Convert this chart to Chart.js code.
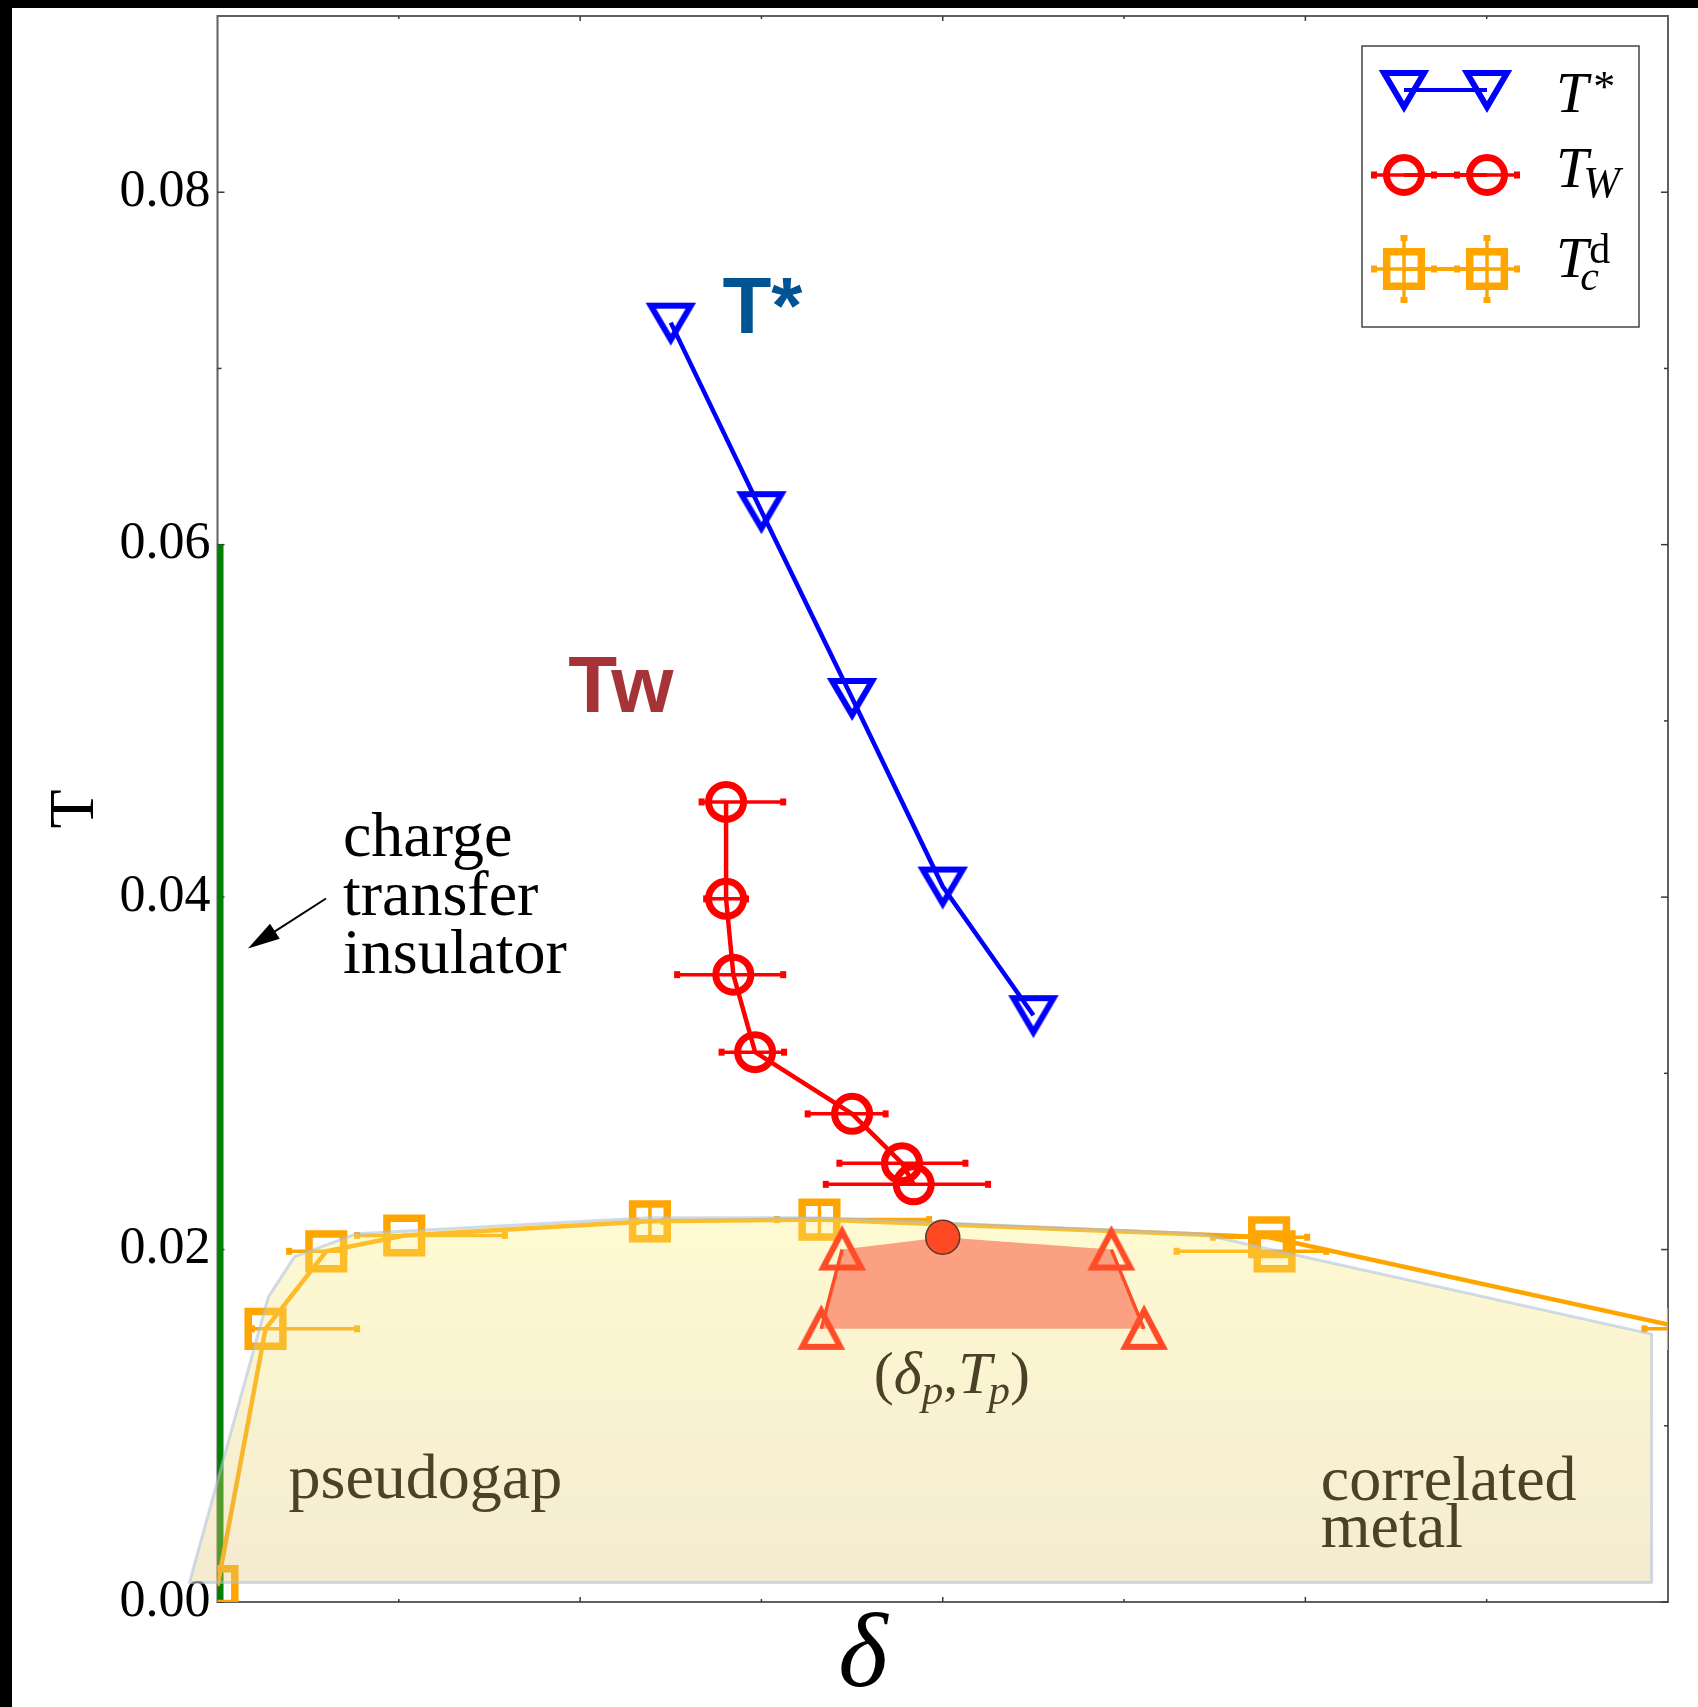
<!DOCTYPE html>
<html>
<head>
<meta charset="utf-8">
<script src="https://cdn.jsdelivr.net/npm/chart.js@4.4.1/dist/chart.umd.min.js"></script>
<style>
  html, body { margin: 0; padding: 0; background: #000; width: 1698px; height: 1707px; overflow: hidden; }
  #wrap { position: absolute; left: 12px; top: 8px; width: 1686px; height: 1699px; background: #fff; }
  canvas { display: block; }
</style>
</head>
<body>
<div id="wrap"><canvas id="phase" width="1686" height="1699"></canvas></div>
<script>
// ---- axis ranges and ticks ----
const deltaRange = [0, 0.16];
const tempRange = [0, 0.09];
const tempTickValues = [0, 0.02, 0.04, 0.06, 0.08];
const tempTickLabels = ['0.00', '0.02', '0.04', '0.06', '0.08'];
const tempMinorTicks = [0.01, 0.03, 0.05, 0.07];
const deltaMajorTicks = [0.04, 0.08, 0.12];
const deltaMinorTicks = [0.02, 0.06, 0.10, 0.14];

// ---- T* (pseudogap onset) ----
const tStarDelta = [0.050, 0.060, 0.070, 0.080, 0.090];
const tStarTemp  = [0.0726, 0.0619, 0.0513, 0.0406, 0.0333];

// ---- T_W (Widom line) with doping error bars ----
const twDelta     = [0.0561, 0.0561, 0.0569, 0.0593, 0.0700, 0.0755, 0.0768];
const twTemp      = [0.0454, 0.0399, 0.0356, 0.0312, 0.0277, 0.0249, 0.0237];
const twErrMinus  = [0.0027, 0.0022, 0.0062, 0.0037, 0.0049, 0.0069, 0.0097];
const twErrPlus   = [0.0063, 0.0022, 0.0055, 0.0032, 0.0037, 0.0070, 0.0082];

// ---- T_c^d (superconducting dome) ----
const tcDelta      = [0.0000, 0.0053, 0.0120, 0.0206, 0.0477, 0.0664, 0.1160, 0.1622];
const tcTemp       = [0.0009, 0.0155, 0.0199, 0.0208, 0.0216, 0.0217, 0.0207, 0.0155];
const tcErrMinus   = [0.0000, 0.0015, 0.0041, 0.0052, 0.0015, 0.0047, 0.0062, 0.0048];
const tcErrPlus    = [0.0000, 0.0101, 0.0020, 0.0111, 0.0015, 0.0121, 0.0042, 0.0030];
const tcTempErr    = [0, 0, 0, 0, 0.0009, 0.0009, 0, 0];
// second estimate near the overdoped side
const tcAltDelta    = [0.1166];
const tcAltTemp     = [0.0199];
const tcAltErrMinus = [0.0108];
const tcAltErrPlus  = [0.0057];

// ---- first-order transition pocket and its critical endpoint ----
const pocketLeftDelta  = [0.0666, 0.0689];
const pocketLeftTemp   = [0.0155, 0.0200];
const pocketRightDelta = [0.0986, 0.1022];
const pocketRightTemp  = [0.0200, 0.0155];
const criticalDelta = [0.0800];
const criticalTemp  = [0.0207];
// outline of the shaded coexistence pocket (left side, endpoint, right side)
const pocketShapeDelta = [0.0666, 0.0689, 0.0800, 0.0986, 0.1022];
const pocketShapeTemp  = [0.0155, 0.0200, 0.0207, 0.0200, 0.0155];

// ---- shaded superconducting region ----
const domeDelta = [-0.0031, 0.0056, 0.0085, 0.0154, 0.0476, 0.0664, 0.1084, 0.1582, 0.1582];
const domeTemp  = [ 0.0011, 0.0173, 0.0196, 0.0209, 0.0218, 0.0218, 0.0209, 0.0152, 0.0011];

// ---- charge transfer insulator at zero doping ----
const ctiDelta = [0, 0];
const ctiTemp  = [0, 0.06];

const zip = (xs, ys) => xs.map((v, i) => ({ x: v, y: ys[i] }));
const pairs = (a, b) => a.map((v, i) => [v, b[i]]);

const SERIF = "'Liberation Serif', 'Times New Roman', serif";
const SANS = "'Liberation Sans', Arial, sans-serif";
const BLUE = '#0000ff', RED = '#ff0000', ORANGE = '#ffa500', TOMATO = 'rgb(255,76,40)';
const OLIVE = '#4a4127';

// open triangle marker sprites, centred on the data point
function triangleSprite(color, w, h, down, lw) {
  const c = document.createElement('canvas');
  c.width = Math.ceil(w + 4 * lw);
  c.height = Math.ceil(h + 4 * lw);
  const g = c.getContext('2d');
  const cx = c.width / 2, cy = c.height / 2;
  g.strokeStyle = color;
  g.lineWidth = lw;
  g.lineJoin = 'miter';
  g.beginPath();
  if (down) {
    g.moveTo(cx - w / 2, cy - h / 2);
    g.lineTo(cx + w / 2, cy - h / 2);
    g.lineTo(cx, cy + h / 2);
  } else {
    g.moveTo(cx - w / 2, cy + h / 2);
    g.lineTo(cx + w / 2, cy + h / 2);
    g.lineTo(cx, cy - h / 2);
  }
  g.closePath();
  g.stroke();
  return c;
}
const starMarker = triangleSprite(BLUE, 40, 34, true, 6);
const pocketMarker = triangleSprite(TOMATO, 38, 36, false, 6);

// ---------- plugins ----------
const framePlugin = {
  id: 'frame',
  beforeDatasetsDraw(chart) {
    const { ctx, chartArea: a, scales: { x, y } } = chart;
    ctx.save();
    ctx.strokeStyle = '#606060';
    ctx.lineWidth = 2;
    ctx.strokeRect(a.left, a.top, a.right - a.left, a.bottom - a.top);
    ctx.strokeStyle = '#3a3a3a';
    ctx.lineWidth = 1.5;
    const seg = (x0, y0, x1, y1) => { ctx.beginPath(); ctx.moveTo(x0, y0); ctx.lineTo(x1, y1); ctx.stroke(); };
    tempTickValues.forEach(v => { const p = y.getPixelForValue(v); seg(a.left, p, a.left + 7, p); seg(a.right, p, a.right - 7, p); });
    tempMinorTicks.forEach(v => { const p = y.getPixelForValue(v); seg(a.left, p, a.left + 4, p); seg(a.right, p, a.right - 4, p); });
    deltaMajorTicks.forEach(v => { const p = x.getPixelForValue(v); seg(p, a.bottom, p, a.bottom - 5); seg(p, a.top, p, a.top + 5); });
    deltaMinorTicks.forEach(v => { const p = x.getPixelForValue(v); seg(p, a.bottom, p, a.bottom - 3); seg(p, a.top, p, a.top + 3); });
    ctx.restore();
  }
};

function capRect(ctx, x, y, horizontal) {
  if (horizontal) ctx.fillRect(x - 3, y - 3.5, 6, 7);
  else ctx.fillRect(x - 3.5, y - 3, 7, 6);
}

const errorBarPlugin = {
  id: 'errorBars',
  beforeDatasetDraw(chart, args) {
    const ds = chart.data.datasets[args.index];
    if (!ds.errDelta && !ds.errTemp) return;
    const { ctx, chartArea: a, scales: { x, y } } = chart;
    ctx.save();
    ctx.beginPath();
    ctx.rect(a.left, a.top, a.right - a.left, a.bottom - a.top);
    ctx.clip();
    ctx.strokeStyle = ds.borderColor;
    ctx.fillStyle = ds.borderColor;
    ctx.lineWidth = 3.5;
    ds.data.forEach((p, i) => {
      const px = x.getPixelForValue(p.x), py = y.getPixelForValue(p.y);
      const e = ds.errDelta && ds.errDelta[i];
      if (e && (e[0] > 0 || e[1] > 0)) {
        const x0 = x.getPixelForValue(p.x - e[0]), x1 = x.getPixelForValue(p.x + e[1]);
        ctx.beginPath(); ctx.moveTo(x0, py); ctx.lineTo(x1, py); ctx.stroke();
        capRect(ctx, x0, py, true); capRect(ctx, x1, py, true);
      }
      const t = ds.errTemp && ds.errTemp[i];
      if (t) {
        const y0 = y.getPixelForValue(p.y - t), y1 = y.getPixelForValue(p.y + t);
        ctx.beginPath(); ctx.moveTo(px, y0); ctx.lineTo(px, y1); ctx.stroke();
      }
    });
    ctx.restore();
  }
};

const polygonPlugin = {
  id: 'polygons',
  afterDatasetDraw(chart, args) {
    const ds = chart.data.datasets[args.index];
    if (!ds.polygon) return;
    const { ctx, scales: { y } } = chart;
    const pts = args.meta.data;
    ctx.save();
    ctx.beginPath();
    pts.forEach((p, i) => (i ? ctx.lineTo(p.x, p.y) : ctx.moveTo(p.x, p.y)));
    ctx.closePath();
    if (ds.polygon === 'dome') {
      const g = ctx.createLinearGradient(0, y.getPixelForValue(0.022), 0, y.getPixelForValue(0.001));
      g.addColorStop(0, 'rgba(251,240,120,0.34)');
      g.addColorStop(1, 'rgba(226,200,125,0.36)');
      ctx.fillStyle = g;
      ctx.fill();
      ctx.strokeStyle = 'rgba(170,192,222,0.55)';
      ctx.lineWidth = 3;
      ctx.lineJoin = 'round';
      ctx.stroke();
    } else {
      ctx.fillStyle = 'rgb(251,160,128)';
      ctx.fill();
    }
    ctx.restore();
  }
};

function runText(ctx, x, y, runs) {
  let cx = x;
  runs.forEach(r => {
    ctx.font = r.font;
    ctx.fillText(r.t, cx, y + (r.dy || 0));
    cx += ctx.measureText(r.t).width + (r.dx || 0);
  });
}

const annotationPlugin = {
  id: 'annotations',
  afterDatasetsDraw(chart) {
    const { ctx, scales: { x, y } } = chart;
    const P = (d, t) => [x.getPixelForValue(d), y.getPixelForValue(t)];
    ctx.save();
    ctx.textBaseline = 'alphabetic';
    ctx.textAlign = 'left';

    // curve names
    ctx.font = `bold 80px ${SANS}`;
    ctx.fillStyle = 'rgb(0,84,148)';
    let [lx, ly] = P(0.0557, 0.0720);
    ctx.fillText('T*', lx, ly);
    ctx.fillStyle = 'rgb(166,51,56)';
    [lx, ly] = P(0.0387, 0.0505);
    ctx.fillText('Tw', lx, ly);

    // charge transfer insulator
    ctx.fillStyle = '#000';
    ctx.font = `64px ${SERIF}`;
    [['charge', 0.04236], ['transfer', 0.03896], ['insulator', 0.03567]].forEach(([s, t]) => {
      const [tx, ty] = P(0.01384, t);
      ctx.fillText(s, tx, ty);
    });
    const [ax0, ay0] = P(0.01197, 0.03992);
    const [ax1, ay1] = P(0.00336, 0.03708);
    const ang = Math.atan2(ay1 - ay0, ax1 - ax0);
    ctx.strokeStyle = '#000';
    ctx.lineWidth = 2;
    ctx.beginPath();
    ctx.moveTo(ax0, ay0);
    ctx.lineTo(ax1 - 26 * Math.cos(ang), ay1 - 26 * Math.sin(ang));
    ctx.stroke();
    ctx.beginPath();
    ctx.moveTo(ax1, ay1);
    ctx.lineTo(ax1 - 32 * Math.cos(ang) + 9 * Math.sin(ang), ay1 - 32 * Math.sin(ang) - 9 * Math.cos(ang));
    ctx.lineTo(ax1 - 32 * Math.cos(ang) - 9 * Math.sin(ang), ay1 - 32 * Math.sin(ang) + 9 * Math.cos(ang));
    ctx.closePath();
    ctx.fillStyle = '#000';
    ctx.fill();

    // region names
    ctx.fillStyle = OLIVE;
    ctx.font = `64px ${SERIF}`;
    [lx, ly] = P(0.00783, 0.0059);
    ctx.fillText('pseudogap', lx, ly);
    [lx, ly] = P(0.1217, 0.00578);
    ctx.fillText('correlated', lx, ly);
    [lx, ly] = P(0.1217, 0.00312);
    ctx.fillText('metal', lx, ly);

    // critical endpoint label
    [lx, ly] = P(0.0724, 0.01185);
    runText(ctx, lx, ly, [
      { t: '(', font: `60px ${SERIF}` },
      { t: 'δ', font: `italic 60px ${SERIF}` },
      { t: 'p', font: `italic 43px ${SERIF}`, dy: 11 },
      { t: ',', font: `60px ${SERIF}` },
      { t: 'T', font: `italic 60px ${SERIF}`, dx: -3 },
      { t: 'p', font: `italic 43px ${SERIF}`, dy: 11 },
      { t: ')', font: `60px ${SERIF}` }
    ]);

    // doping axis label
    const a = chart.chartArea;
    ctx.fillStyle = '#000';
    ctx.font = `italic 106px ${SERIF}`;
    ctx.textAlign = 'center';
    ctx.fillText('δ', x.getPixelForValue(0.0712), a.bottom + 84);
    ctx.restore();
  }
};

function markerPath(ctx, style, cx, cy, r) {
  ctx.beginPath();
  if (style === 'circle') {
    ctx.arc(cx, cy, r, 0, Math.PI * 2);
  } else if (style === 'rect') {
    const s = r * Math.SQRT1_2;
    ctx.rect(cx - s, cy - s, 2 * s, 2 * s);
  }
}

const legendItems = [
  { label: 'T*', color: BLUE, sprite: starMarker, hErr: false, vErr: false },
  { label: 'TW', color: RED, style: 'circle', r: 17.5, bw: 7, hErr: true, vErr: false },
  { label: 'Tcd', color: ORANGE, style: 'rect', r: 24.5, bw: 7.5, hErr: true, vErr: true }
];

const legendPlugin = {
  id: 'phaseLegend',
  afterDraw(chart) {
    const { ctx, chartArea: a } = chart;
    const bx = a.right - 306, by = a.top + 30, bw = 277, bh = 281;
    ctx.save();
    ctx.fillStyle = '#fff';
    ctx.fillRect(bx, by, bw, bh);
    ctx.strokeStyle = '#444';
    ctx.lineWidth = 1.5;
    ctx.strokeRect(bx, by, bw, bh);
    const rows = [44, 129, 223];
    const mx = [bx + 42, bx + 125];
    legendItems.forEach((it, k) => {
      const cy = by + rows[k];
      ctx.strokeStyle = it.color;
      ctx.fillStyle = it.color;
      ctx.lineWidth = 4;
      ctx.beginPath(); ctx.moveTo(mx[0], cy); ctx.lineTo(mx[1], cy); ctx.stroke();
      mx.forEach(m => {
        ctx.lineWidth = 3.5;
        if (it.hErr) {
          ctx.beginPath(); ctx.moveTo(m - 30, cy); ctx.lineTo(m + 30, cy); ctx.stroke();
          capRect(ctx, m - 30, cy, true); capRect(ctx, m + 30, cy, true);
        }
        if (it.vErr) {
          ctx.beginPath(); ctx.moveTo(m, cy - 31); ctx.lineTo(m, cy + 31); ctx.stroke();
          capRect(ctx, m, cy - 31, false); capRect(ctx, m, cy + 31, false);
        }
        if (it.sprite) {
          ctx.drawImage(it.sprite, m - it.sprite.width / 2, cy - it.sprite.height / 2);
        } else {
          ctx.lineWidth = it.bw;
          markerPath(ctx, it.style, m, cy, it.r);
          ctx.stroke();
        }
      });
    });
    // labels
    ctx.fillStyle = '#000';
    ctx.textBaseline = 'alphabetic';
    const tx = bx + 194;
    runText(ctx, tx, by + 66, [
      { t: 'T', font: `italic 58px ${SERIF}`, dx: 5 },
      { t: '*', font: `44px ${SERIF}`, dy: -11 }
    ]);
    runText(ctx, tx, by + 141, [
      { t: 'T', font: `italic 58px ${SERIF}`, dx: -5 },
      { t: 'W', font: `italic 44px ${SERIF}`, dy: 10 }
    ]);
    ctx.font = `italic 58px ${SERIF}`;
    ctx.fillText('T', tx, by + 231);
    const tw = ctx.measureText('T').width;
    ctx.font = `italic 42px ${SERIF}`;
    ctx.fillText('c', tx + tw - 8, by + 244);
    ctx.font = `42px ${SERIF}`;
    ctx.fillText('d', tx + tw + 1, by + 217);
    ctx.restore();
  }
};

// ---------- datasets ----------
const noPoint = { pointRadius: 0, pointHoverRadius: 0 };

const datasets = [
  {
    label: 'T*', data: zip(tStarDelta, tStarTemp), showLine: true, order: 1,
    borderColor: BLUE, borderWidth: 4.5, backgroundColor: 'rgba(0,0,0,0)',
    pointStyle: starMarker, pointRadius: 22
  },
  {
    label: 'T_W', data: zip(twDelta, twTemp), showLine: true, order: 2,
    borderColor: RED, borderWidth: 4.5, backgroundColor: 'rgba(0,0,0,0)',
    pointStyle: 'circle', pointRadius: 17.5, pointBorderWidth: 7,
    pointBackgroundColor: 'rgba(0,0,0,0)', pointBorderColor: RED,
    errDelta: pairs(twErrMinus, twErrPlus)
  },
  {
    label: 'critical endpoint', data: zip(criticalDelta, criticalTemp), showLine: false, order: 3,
    pointStyle: 'circle', pointRadius: 17, pointBorderWidth: 1.5,
    pointBackgroundColor: 'rgb(255,72,36)', pointBorderColor: '#5b3a2c'
  },
  {
    label: 'pocket left', data: zip(pocketLeftDelta, pocketLeftTemp), showLine: true, order: 4,
    borderColor: TOMATO, borderWidth: 3.5, backgroundColor: 'rgba(0,0,0,0)',
    pointStyle: pocketMarker, pointRadius: 22
  },
  {
    label: 'pocket right', data: zip(pocketRightDelta, pocketRightTemp), showLine: true, order: 4,
    borderColor: TOMATO, borderWidth: 3.5, backgroundColor: 'rgba(0,0,0,0)',
    pointStyle: pocketMarker, pointRadius: 22
  },
  {
    label: 'pocket shape', data: zip(pocketShapeDelta, pocketShapeTemp), showLine: false, order: 6,
    polygon: 'pocket', ...noPoint
  },
  {
    label: 'dome', data: zip(domeDelta, domeTemp), showLine: false, order: 7,
    polygon: 'dome', ...noPoint
  },
  {
    label: 'T_c^d alt', data: zip(tcAltDelta, tcAltTemp), showLine: false, order: 8, clip: 0,
    borderColor: ORANGE, pointStyle: 'rect', pointRadius: 24.5, pointBorderWidth: 7.5,
    pointBackgroundColor: 'rgba(0,0,0,0)', pointBorderColor: ORANGE,
    errDelta: pairs(tcAltErrMinus, tcAltErrPlus)
  },
  {
    label: 'T_c^d', data: zip(tcDelta, tcTemp), showLine: true, order: 9, clip: 0,
    borderColor: ORANGE, borderWidth: 4.5, backgroundColor: 'rgba(0,0,0,0)',
    pointStyle: 'rect', pointRadius: 24.5, pointBorderWidth: 7.5,
    pointBackgroundColor: 'rgba(0,0,0,0)', pointBorderColor: ORANGE,
    errDelta: pairs(tcErrMinus, tcErrPlus), errTemp: tcTempErr
  },
  {
    label: 'charge transfer insulator', data: zip(ctiDelta, ctiTemp), showLine: true, order: 10, clip: 0,
    borderColor: '#008000', borderWidth: 12, ...noPoint
  }
];

new Chart(document.getElementById('phase'), {
  type: 'scatter',
  data: { datasets },
  options: {
    responsive: false,
    animation: false,
    devicePixelRatio: 1,
    events: [],
    layout: { autoPadding: false, padding: { left: 0, top: 8, right: 30, bottom: 0 } },
    elements: { line: { tension: 0 } },
    scales: {
      x: {
        type: 'linear', min: deltaRange[0], max: deltaRange[1],
        grid: { display: false, drawTicks: false }, border: { display: false },
        ticks: { display: false },
        afterFit(s) { s.height = 105; s.paddingLeft = 0; s.paddingRight = 0; }
      },
      y: {
        type: 'linear', min: tempRange[0], max: tempRange[1],
        grid: { display: false, drawTicks: false }, border: { display: false },
        afterBuildTicks(s) { s.ticks = tempTickValues.map(v => ({ value: v })); },
        ticks: {
          padding: 7, color: '#000', font: { family: SERIF, size: 52, lineHeight: 0.1 },
          callback: v => {
            const i = tempTickValues.findIndex(t => Math.abs(t - v) < 1e-9);
            return i >= 0 ? tempTickLabels[i] : '';
          }
        },
        title: {
          display: true, text: 'T', color: '#000',
          font: { family: SERIF, size: 64, lineHeight: 1.2 },
          padding: { top: 26, bottom: 0 }
        },
        afterFit(s) { s.width = 205.5; s.paddingTop = 0; s.paddingBottom = 0; }
      }
    },
    plugins: { legend: { display: false }, tooltip: { enabled: false } }
  },
  plugins: [framePlugin, errorBarPlugin, polygonPlugin, annotationPlugin, legendPlugin]
});
</script>
</body>
</html>
